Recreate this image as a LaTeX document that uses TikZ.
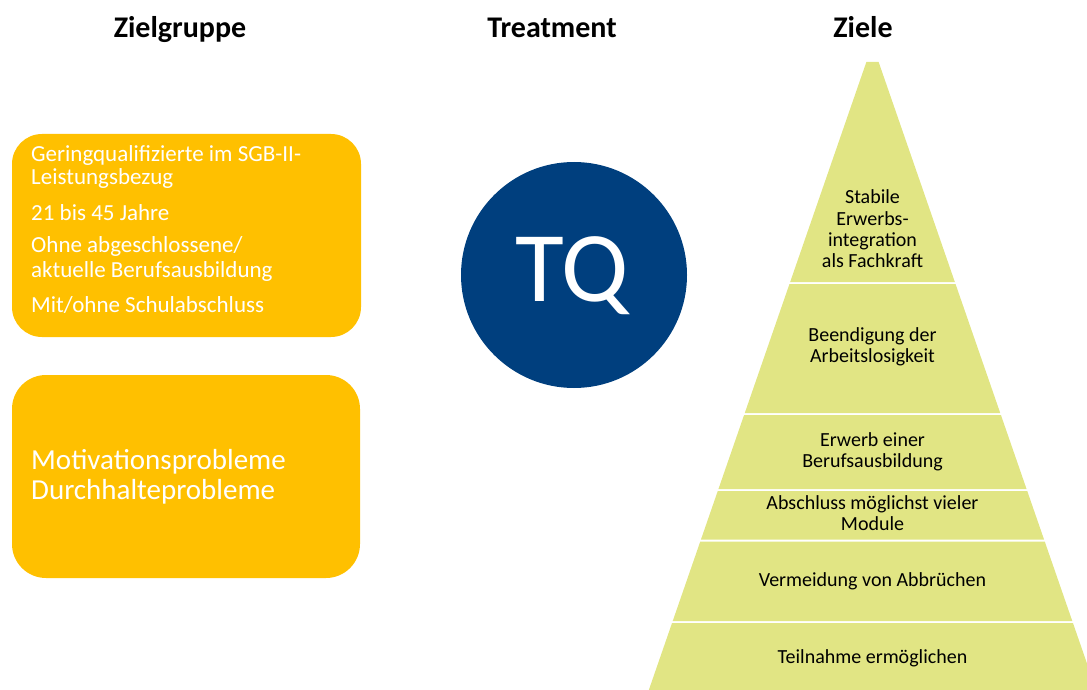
\documentclass[tikz,border=0pt]{standalone}
\usepackage{fontspec}
\setmainfont{Carlito}
\definecolor{orangeY}{HTML}{FFC000}
\definecolor{tqblue}{HTML}{003F7E}
\definecolor{pyrgreen}{HTML}{E1E584}
\tikzset{
  title/.style={anchor=base, font=\fontsize{30}{34}\selectfont\bfseries, text=black},
  ybox/.style={fill=orangeY, rounded corners=30pt},
  boxtxt/.style={anchor=base west, text=white, inner sep=0pt, font=\fontsize{23}{24}\selectfont},
  bigtxt/.style={anchor=base west, text=white, inner sep=0pt, font=\fontsize{29}{30}\selectfont},
  pyrtxt/.style={align=center, text=black, inner sep=0pt, font=\fontsize{20}{21.3}\selectfont},
  pyr/.style={fill=pyrgreen}
}
\begin{document}
\begin{tikzpicture}[x=1pt,y=-1pt]
\useasboundingbox (0,0) rectangle (1087,690);
\clip (0,0) rectangle (1087,690);
% titles
\node[title] (t1) at (180,38) {Zielgruppe};
\node[title] (t2) at (552,38) {Treatment};
\node[title] (t3) at (863,38) {Ziele};
% boxes
\fill[ybox] (12,134) rectangle (361,337);
\fill[ybox, rounded corners=34pt] (12,375) rectangle (360,578);
\node[boxtxt] (b1) at (31,161.5) {Geringqualifizierte im SGB-II-};
\node[boxtxt] (b2) at (31,185) {Leistungsbezug};
\node[boxtxt] (b3) at (31,220) {21 bis 45 Jahre};
\node[boxtxt] (b4) at (31,252) {Ohne abgeschlossene/};
\node[boxtxt] (b5) at (31,277) {aktuelle Berufsausbildung};
\node[boxtxt] (b6) at (31,312) {Mit/ohne Schulabschluss};
\node[bigtxt] (m1) at (31,469) {Motivationsprobleme};
\node[bigtxt] (m2) at (31,499) {Durchhalteprobleme};
% circle
\fill[tqblue] (574,275) circle[radius=113];
\node[anchor=base, text=white, inner sep=0pt, font=\fontsize{100}{100}\selectfont] (tq) at (572,301.7) {TQ};
% pyramid
\foreach \a/\b in {62/282,284/413,415/489,491/539.5,541.5/621,623/700}{
  \fill[pyr] ({872.5-0.3464*(\a-44.3)},\a) -- ({872.5+0.3464*(\a-44.3)},\a)
    -- ({872.5+0.3464*(\b-44.3)},\b) -- ({872.5-0.3464*(\b-44.3)},\b) -- cycle;
}
\node[pyrtxt] (p1) at (872.5,229) {Stabile\\Erwerbs-\\integration\\als Fachkraft};
\node[pyrtxt] (p2) at (872.5,347) {Beendigung der\\Arbeitslosigkeit};
\node[pyrtxt] (p3) at (872.5,451.5) {Erwerb einer\\Berufsausbildung};
\node[pyrtxt] (p4) at (872.5,513) {Abschluss möglichst vieler\\Module};
\node[pyrtxt] (p5) at (872.5,581) {Vermeidung von Abbrüchen};
\node[pyrtxt] (p6) at (872.5,658) {Teilnahme ermöglichen};
\end{tikzpicture}
\end{document}
